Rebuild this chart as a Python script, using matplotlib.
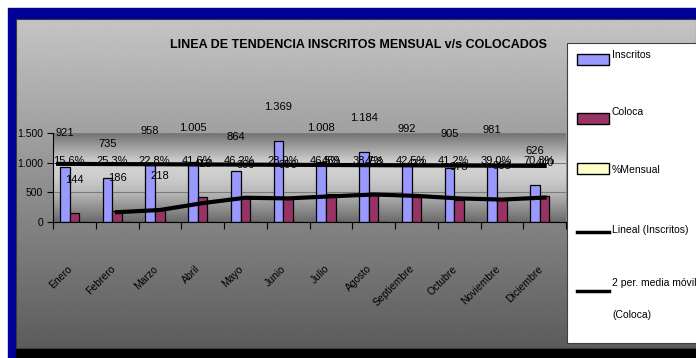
import numpy as np
import matplotlib
matplotlib.use("Agg")
import matplotlib.pyplot as plt
from matplotlib.patches import Rectangle

plt.rcParams['font.family'] = ['Liberation Sans Narrow', 'Liberation Sans', 'DejaVu Sans']

# datos
meses = ['Enero', 'Febrero', 'Marzo', 'Abril', 'Mayo', 'Junio', 'Julio',
         'Agosto', 'Septiembre', 'Octubre', 'Noviembre', 'Diciembre']
inscritos = [921, 735, 958, 1005, 864, 1369, 1008, 1184, 992, 905, 981, 626]
coloca = [144, 186, 218, 418, 399, 396, 469, 458, 422, 373, 383, 440]
y_ticks = [0, 500, 1000, 1500]
y_labels = ['0', '500', '1.000', '1.500']

W, H = 696, 358
x = np.arange(len(meses))
ins = np.array(inscritos, dtype=float)
col = np.array(coloca, dtype=float)
pct = col / ins


def px(l, t, r, b):
    return [l / W, 1 - b / H, (r - l) / W, (b - t) / H]


fig = plt.figure(figsize=(W / 100, H / 100), dpi=100)

# fondo del grafico
bg = fig.add_axes([0, 0, 1, 1])
bg.axis('off')
bg.add_patch(Rectangle((8, 8), W - 8, H - 8, color='#000099', zorder=0.5))
bg.add_patch(Rectangle((16, 349), W - 16, 9, color='black', zorder=0.6))
grad = np.linspace(0.77, 0.36, 256)[:, None]
bg.imshow(grad, extent=(16, W, 348, 19), cmap='gray', vmin=0, vmax=1,
          aspect='auto', interpolation='bilinear', zorder=0.8)
bg.add_patch(Rectangle((16, 19), W - 16, 329, fill=False, ec='#3a3a3a', lw=0.8))
bg.set_xlim(0, W)
bg.set_ylim(H, 0)

bg.text(358, 45, 'LINEA DE TENDENCIA INSCRITOS MENSUAL v/s COLOCADOS',
        ha='center', va='center', fontsize=9, fontweight='bold')

# leyenda
fs_leg = 7.5
bg.add_patch(Rectangle((567, 43), 140, 300, fc='white', ec='#404040', lw=0.8))
bg.add_patch(Rectangle((577, 54), 32, 11, fc='#9999ff', ec='black', lw=1))
bg.text(612, 55, 'Inscritos', va='center', fontsize=fs_leg)
bg.add_patch(Rectangle((577, 113), 32, 11, fc='#993366', ec='black', lw=1))
bg.text(612, 112, 'Coloca', va='center', fontsize=fs_leg)
bg.add_patch(Rectangle((577, 163), 32, 11, fc='#ffffcc', ec='black', lw=1))
bg.text(612, 170, '%Mensual', va='center', fontsize=fs_leg)
bg.plot([577, 609], [232, 232], color='black', lw=2.5)
bg.text(612, 230, 'Lineal (Inscritos)', va='center', fontsize=fs_leg)
bg.plot([577, 609], [291, 291], color='black', lw=2.5)
bg.text(612, 283, '2 per. media móvil', va='center', fontsize=fs_leg)
bg.text(612, 315, '(Coloca)', va='center', fontsize=fs_leg)

# area de trazado
ax = fig.add_axes(px(53, 133, 566, 222))
rows = np.arange(90)
shade = np.interp(rows, [0, 30, 45, 60, 89], [0.45, 0.83, 0.80, 0.72, 0.42])
ax.imshow(shade[:, None], extent=(-0.5, 11.5, 0, 1500), cmap='gray',
          vmin=0, vmax=1, aspect='auto', interpolation='bilinear', zorder=0)

w = 0.227
ax.bar(x - w, ins, w, color='#9999ff', edgecolor='black', lw=0.9, zorder=2)
ax.bar(x, col, w, color='#993366', edgecolor='black', lw=0.9, zorder=2)
ax.bar(x + w, pct, w, color='#ffffcc', edgecolor='black', lw=0.9, zorder=2)

# linea de tendencia y media movil
fit = np.polyfit(x, ins, 1)
xt = np.array([-0.38, 11.0])
ax.plot(xt, np.polyval(fit, xt), color='black', lw=3, zorder=3)
mm = (col[1:] + col[:-1]) / 2
ax.plot(x[1:], mm, color='black', lw=3, zorder=3)

fs_lab = 8
for i in x:
    ax.annotate(f'{inscritos[i]:,}'.replace(',', '.'), (i - w, ins[i]),
                xytext=(0, 24.5), textcoords='offset points',
                ha='center', va='center', fontsize=fs_lab, zorder=4)
    ax.annotate(str(coloca[i]), (i, col[i]), xytext=(0, 23.8),
                textcoords='offset points', ha='center', va='center',
                fontsize=fs_lab, zorder=4)
    ax.text(i - w + 0.1, 1030, f'{pct[i] * 100:.1f}%'.replace('.', ','),
            ha='center', va='center', fontsize=fs_lab, zorder=4)

ax.set_xlim(-0.5, 11.5)
ax.set_ylim(0, 1500)
ax.set_yticks(y_ticks)
ax.set_yticklabels(y_labels, fontsize=7.5)
ax.set_xticks(np.arange(-0.5, 12, 1))
ax.set_xticklabels([])
ax.set_xticks(x, minor=True)
ax.set_xticklabels(meses, minor=True, rotation=45, ha='right', va='top',
                   fontsize=7.5)
ax.tick_params(axis='x', which='major', length=5, direction='out', width=0.8)
ax.tick_params(axis='x', which='minor', length=0, pad=30)
ax.tick_params(axis='y', length=4, width=0.8, pad=3)
ax.set_axisbelow(True)
ax.yaxis.grid(True, color='#7a7a7a', lw=0.8)
for s in ['top', 'right']:
    ax.spines[s].set_visible(False)
ax.spines['left'].set_linewidth(0.8)
ax.spines['bottom'].set_linewidth(0.8)

fig.savefig('out.png', dpi=100)
